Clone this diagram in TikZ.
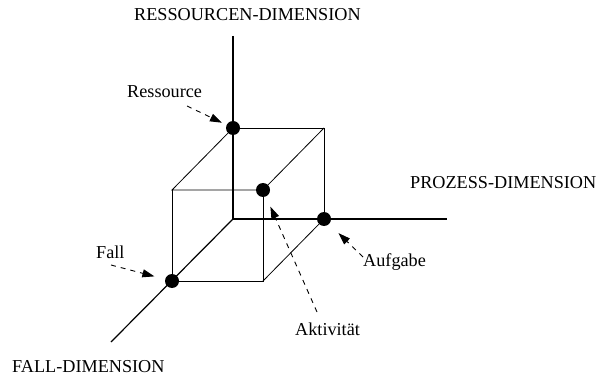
\documentclass[tikz,border=0pt]{standalone}
\usepackage{fontspec}
\setmainfont{Liberation Serif}
\usetikzlibrary{arrows.meta}
\begin{document}
\begin{tikzpicture}[x=1pt,y=-1pt,
  dot/.style={circle,fill=black,inner sep=0pt,minimum size=14pt},
  axisline/.style={line width=1.2pt},
  cubeedge/.style={line width=0.8pt},
  lbl/.style={inner sep=0pt,anchor=base west,font=\fontsize{18.2}{20}\selectfont},
  pointer/.style={dash pattern=on 5pt off 5pt,line width=0.9pt,-{Triangle[length=12pt,width=8pt]}}]
\useasboundingbox (0,0) rectangle (596,379);
% corners
\coordinate (O) at (233,219);
\coordinate (R) at (233,128);
\coordinate (A) at (324,219);
\coordinate (TBR) at (324,128);
\coordinate (FTL) at (172,190);
\coordinate (K) at (263,190);
\coordinate (F) at (172,281);
\coordinate (FBR) at (263,281);
% axis ends
\coordinate (ytop) at (233,36);
\coordinate (xend) at (447,219);
\coordinate (zend) at (111,342);
% axes
\draw[axisline] (ytop) -- (O);
\draw[axisline] (O) -- (xend);
\draw[axisline] (O) -- (zend);
% cube
\draw[cubeedge] (R) -- (TBR) -- (A);
\draw[cubeedge] (R) -- (FTL) -- (K) -- (TBR);
\draw[cubeedge] (FTL) -- (F) -- (FBR) -- (K);
\draw[cubeedge] (FBR) -- (A);
% dots
\node[dot] (r) at (R) {};
\node[dot] (a) at (A) {};
\node[dot] (k) at (K) {};
\node[dot] (f) at (F) {};
% labels
\node[lbl] (ry) at (134,21) {RESSOURCEN-DIMENSION};
\node[lbl] (px) at (410,189) {PROZESS-DIMENSION};
\node[lbl] (fz) at (12,372) {FALL-DIMENSION};
\node[lbl] (lr) at (127,98) {Ressource};
\node[lbl] (la) at (363,266) {Aufgabe};
\node[lbl] (lk) at (295,335) {Aktivität};
\node[lbl] (lf) at (96,258) {Fall};
% pointers
\coordinate (pr) at (187,106);
\coordinate (pa) at (363,257);
\coordinate (pk) at (317,312);
\coordinate (pf) at (111,265);
\draw[pointer,shorten >=5pt] (pr) -- (r);
\draw[pointer,shorten >=13pt] (pa) -- (a);
\draw[pointer,shorten >=11pt] (pk) -- (k);
\draw[pointer,shorten >=11pt] (pf) -- (f);
\end{tikzpicture}
\end{document}
